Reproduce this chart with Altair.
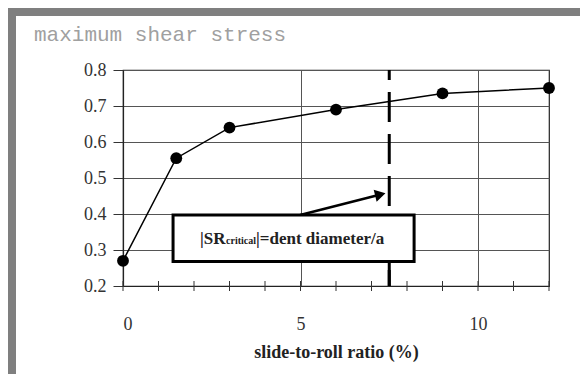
import altair as alt
import pandas as pd

# Measured curve: maximum shear stress versus slide-to-roll ratio
slide_to_roll = [0, 1.5, 3, 6, 9, 12]
max_shear = [0.27, 0.555, 0.64, 0.69, 0.735, 0.75]

# Critical slide-to-roll ratio (dashed marker)
sr_critical = 7.5

# Axis ticks
x_major = [0, 5, 10]
x_minor = list(range(0, 13))
y_ticks = [0.2, 0.3, 0.4, 0.5, 0.6, 0.7, 0.8]

# Annotation box and arrow, in data units
box = {"x": 1.41, "x2": 8.2, "y": 0.397, "y2": 0.268}
arrow_from = (4.99, 0.397)
arrow_to = (7.2, 0.453)

W, H = 426, 216
PAD_L, PAD_T = 123, 70

xs = alt.Scale(domain=[0, 12], nice=False, zero=False)
ys = alt.Scale(domain=[0.2, 0.8], nice=False, zero=False)

x_axis = alt.Axis(values=x_major, title="slide-to-roll ratio (%)", grid=True,
                  gridColor="#555", gridWidth=1, ticks=False, labelPadding=29,
                  labelFont="Liberation Serif", labelFontSize=18, labelColor="#333",
                  titleFont="Liberation Serif", titleFontSize=18, titleFontWeight="bold",
                  titleColor="#222", titlePadding=10, domainColor="#222", domainWidth=1.2)
y_axis = alt.Axis(values=y_ticks, title=None, grid=True, gridColor="#555", gridWidth=1,
                  tickSize=10, tickColor="#333", labelPadding=7, format=".1f",
                  labelOverlap=False, labelFont="Liberation Serif", labelFontSize=18,
                  labelColor="#333", domainColor="#222", domainWidth=1.2)


def X(field):
    return alt.X(f"{field}:Q", scale=xs, axis=x_axis)


def Y(field):
    return alt.Y(f"{field}:Q", scale=ys, axis=y_axis)


curve = pd.DataFrame({"sr": slide_to_roll, "tau": max_shear})
base = alt.Chart(curve)

line = base.mark_line(color="black", strokeWidth=1.5).encode(x=X("sr"), y=Y("tau"))
points = base.mark_circle(color="black", opacity=1, size=140).encode(x=X("sr"), y=Y("tau"))

minor = alt.Chart(pd.DataFrame({"t": x_minor})).mark_rule(color="#333", strokeWidth=1).encode(
    x=X("t"), y=alt.value(H - 5), y2=alt.value(H + 5)
)

crit = pd.DataFrame({"x": [sr_critical], "top": [0.8], "bottom": [0.2]})
dashed = alt.Chart(crit).mark_rule(color="black", strokeWidth=3, strokeDash=[30, 12],
                                   strokeDashOffset=20).encode(
    x=X("x"), y=Y("top"), y2=alt.Y2("bottom:Q")
)
crit_tick = alt.Chart(crit).mark_rule(color="black", strokeWidth=3).encode(
    x=X("x"), y=alt.value(H - 16), y2=alt.value(H)
)

box_df = pd.DataFrame([box])
box_rect = alt.Chart(box_df).mark_rect(fill="white", stroke="black", strokeWidth=3).encode(
    x=X("x"), x2="x2:Q", y=Y("y"), y2="y2:Q"
)

arrow_df = pd.DataFrame({"x": [arrow_from[0]], "y": [arrow_from[1]],
                         "x2": [arrow_to[0]], "y2": [arrow_to[1]]})
arrow_shaft = alt.Chart(arrow_df).mark_rule(color="black", strokeWidth=2.5).encode(
    x=X("x"), y=Y("y"), x2="x2:Q", y2="y2:Q"
)
arrow_head = alt.Chart(arrow_df).mark_point(shape="triangle", filled=True, color="black",
                                            opacity=1, size=150, angle=76).encode(
    x=X("x2"), y=Y("y2")
)

label_df = pd.DataFrame({"x": [box["x"]], "y": [(box["y"] + box["y2"]) / 2]})
lbl_common = dict(font="Liberation Serif", fontWeight="bold", baseline="middle",
                  align="left", color="#222")
lbl1 = alt.Chart(label_df).mark_text(text="|SR", fontSize=17, dx=27, dy=1, **lbl_common).encode(
    x=X("x"), y=Y("y"))
lbl2 = alt.Chart(label_df).mark_text(text="critical", fontSize=10, dx=53, dy=3, **lbl_common).encode(
    x=X("x"), y=Y("y"))
lbl3 = alt.Chart(label_df).mark_text(text="|=dent diameter/a", fontSize=17, dx=83, dy=1,
                                     **lbl_common).encode(x=X("x"), y=Y("y"))

# Gray page frame (left and top bars) and the monospace heading
frame_left = alt.Chart(pd.DataFrame({"k": [0]})).mark_rect(color="#7f7f7f").encode(
    x=alt.value(8 - PAD_L), x2=alt.value(16 - PAD_L),
    y=alt.value(8 - PAD_T), y2=alt.value(374 - PAD_T))
frame_top = alt.Chart(pd.DataFrame({"k": [0]})).mark_rect(color="#7f7f7f").encode(
    x=alt.value(8 - PAD_L), x2=alt.value(580 - PAD_L),
    y=alt.value(8 - PAD_T), y2=alt.value(16 - PAD_T))
heading = alt.Chart(pd.DataFrame({"k": [0]})).mark_text(
    text="maximum shear stress", font="Liberation Mono", fontSize=21, color="#a0a0a0",
    align="left", baseline="middle").encode(x=alt.value(34 - PAD_L), y=alt.value(35 - PAD_T))

chart = alt.layer(
    line, minor, dashed, crit_tick, arrow_shaft, arrow_head, box_rect, lbl1, lbl2, lbl3, points,
    frame_left, frame_top, heading,
).properties(
    width=W, height=H,
    autosize=alt.AutoSizeParams(type="none"),
    padding={"left": PAD_L, "top": PAD_T, "right": 580 - PAD_L - W, "bottom": 374 - PAD_T - H},
    background="white",
).configure_view(stroke="#222", strokeWidth=1.2)

chart.save("out.html", embed_options={"renderer": "svg", "actions": False})
